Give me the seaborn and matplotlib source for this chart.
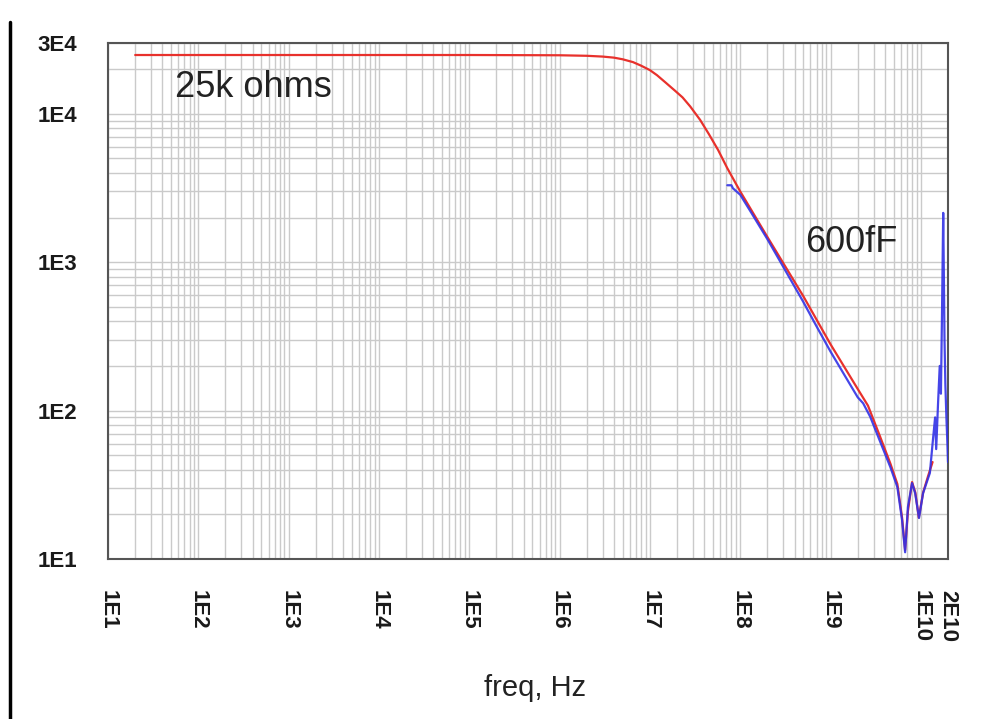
import numpy as np
import pandas as pd
import seaborn as sns
import matplotlib.pyplot as plt
from matplotlib.ticker import FixedLocator, LogLocator, NullFormatter
from matplotlib.lines import Line2D

sns.set_style("white")
plt.rcParams['font.family'] = ['Liberation Sans', 'DejaVu Sans']

# model curve (25k ohms || 600fF)
red_freq = [20, 1e5, 1e6, 2e6, 3e6, 4e6, 5e6, 6.5e6, 8e6, 1e7, 1.2e7, 1.5e7, 1.9e7, 2.3e7, 2.8e7,
            3.6e7, 4.5e7, 5.7e7, 7.2e7, 1e8, 2e8, 5e8, 1e9, 2e9, 2.6e9, 3.5e9, 4.6e9, 5.5e9,
            6.2e9, 6.7e9, 7.2e9, 8.0e9, 8.7e9, 9.5e9, 1.06e10, 1.2e10, 1.35e10]
red_z = [24900, 24900, 24800, 24600, 24300, 23900, 23300, 22300, 21100, 19700, 18200, 16200,
         14300, 12900, 11200, 9100, 7300, 5700, 4300, 3000, 1480, 590, 280, 140, 108, 68, 44, 32,
         19, 11.5, 21, 33, 28, 19, 28, 36, 45]

# measured curve
blue_freq = [7.2e7, 8.0e7, 8.3e7, 1e8, 1.3e8, 2e8, 3e8, 5e8, 7e8, 1e9, 1.5e9, 2e9, 2.3e9, 2.75e9,
             3.5e9, 4.6e9, 5.5e9, 6.2e9, 6.7e9, 7.2e9, 8.0e9, 8.65e9, 9.55e9, 1.06e10, 1.26e10,
             1.35e10, 1.44e10, 1.48e10, 1.55e10, 1.62e10, 1.67e10, 1.72e10, 1.77e10, 1.80e10,
             1.83e10, 1.87e10, 1.92e10, 1.97e10, 2.0e10]
blue_z = [3300, 3300, 3150, 2850, 2200, 1430, 930, 540, 370, 250, 165, 123, 112, 91, 63, 41.6,
          30.5, 18.3, 11.1, 22.4, 32.5, 27.8, 18.9, 27.8, 38, 60, 90, 55, 110, 200, 130, 500,
          2150, 800, 300, 150, 90, 60, 45]

x_ticks = [1e1, 1e2, 1e3, 1e4, 1e5, 1e6, 1e7, 1e8, 1e9, 1e10, 2e10]
x_labels = ["1E1", "1E2", "1E3", "1E4", "1E5", "1E6", "1E7", "1E8", "1E9", "1E10", "2E10"]
y_ticks = [1e1, 1e2, 1e3, 1e4, 3e4]
y_labels = ["1E1", "1E2", "1E3", "1E4", "3E4"]

red_df = pd.DataFrame({"freq": red_freq, "z": red_z})
blue_df = pd.DataFrame({"freq": blue_freq, "z": blue_z})

fig = plt.figure(figsize=(9.91, 7.19), dpi=100)
ax = fig.add_axes([108 / 991, 1 - 559 / 719, 840 / 991, 516 / 719])

sns.lineplot(data=red_df, x="freq", y="z", ax=ax, color="#e8312c", lw=1.6, sort=False,
             estimator=None, zorder=3)
sns.lineplot(data=blue_df, x="freq", y="z", ax=ax, color="#3232e6", lw=1.6, sort=False,
             estimator=None, zorder=4, alpha=0.9)

ax.set_xscale("log")
ax.set_yscale("log")
ax.set_xlim(1e1, 2e10)
ax.set_ylim(1e1, 3e4)

ax.xaxis.set_major_locator(FixedLocator(x_ticks))
ax.xaxis.set_ticklabels(x_labels)
ax.yaxis.set_major_locator(FixedLocator(y_ticks))
ax.yaxis.set_ticklabels(y_labels)
for a in (ax.xaxis, ax.yaxis):
    a.set_minor_locator(LogLocator(base=10, subs=np.arange(2, 10), numticks=20))
    a.set_minor_formatter(NullFormatter())

ax.grid(True, which="both", color="#cacaca", lw=1.0)
ax.tick_params(which="minor", length=0)
ax.tick_params(which="major", direction="out", length=15, width=1.5, color="#555555",
               labelsize=16, pad=7, labelcolor="#1a1a1a")
ax.tick_params(axis="x", labelrotation=-90)
for lab in ax.get_xticklabels() + ax.get_yticklabels():
    lab.set_fontweight("bold")
for lab in ax.get_xticklabels():
    lab.set_va("top")
    lab.set_ha("center")

for sp in ax.spines.values():
    sp.set_color("#555555")
    sp.set_linewidth(1.5)

ax.set_xlabel("")
ax.set_ylabel("")

ax.text(55, 13000, "25k ohms", fontsize=26, color="#222222", va="baseline")
ax.text(5.2e8, 1170, "600fF", fontsize=26, color="#222222", va="baseline")

fig.text(535 / 991, 1 - 688 / 719, "freq, Hz", fontsize=21, ha="center", va="center",
         color="#222222")

# left border bar of the screenshot
fig.add_artist(Line2D([10 / 991, 10 / 991], [0, 1 - 22 / 719], color="black", lw=2.5))

fig.savefig("out.png", dpi=100)
